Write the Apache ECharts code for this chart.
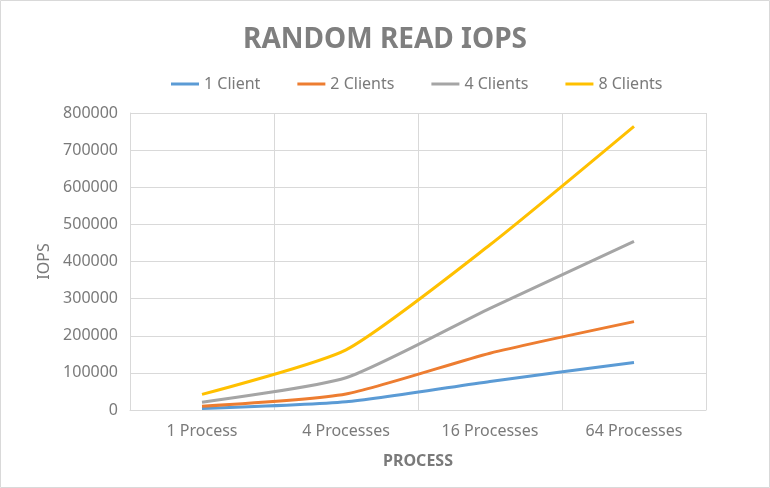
<!DOCTYPE html>
<html>
<head>
<meta charset="utf-8">
<script src="https://cdn.jsdelivr.net/npm/echarts@6/dist/echarts.min.js"></script>
<style>html,body{margin:0;padding:0;background:#fff}#c{width:770px;height:488px}</style>
</head>
<body>
<div id="c"></div>
<script>
const categories = ['1 Process', '4 Processes', '16 Processes', '64 Processes'];
const seriesNames = ['1 Client', '2 Clients', '4 Clients', '8 Clients'];
const client1 = [4000, 22000, 77000, 128000];
const client2 = [10000, 43000, 153000, 238000];
const client4 = [21000, 87000, 274000, 454000];
const client8 = [42000, 162000, 445000, 764000];
const yTicks = { min: 0, max: 800000, interval: 100000 };
const colors = ['#5B9BD5', '#ED7D31', '#A5A5A5', '#FFC000'];

const font = 'Noto Sans';
const values = [client1, client2, client4, client8];
const chart = echarts.init(document.getElementById('c'), null, { renderer: 'canvas' });
chart.setOption({
  animation: false,
  color: colors,
  textStyle: { fontFamily: font },
  graphic: [{ type: 'rect', shape: { x: 0.5, y: 0.5, width: 769, height: 487 }, style: { fill: 'none', stroke: '#d9d9d9', lineWidth: 1 } }],
  title: {
    text: 'RANDOM READ IOPS', left: 'center', top: 21,
    textStyle: { fontFamily: font, fontSize: 28, fontWeight: 'bold', color: '#7f7f7f' }
  },
  legend: {
    top: 71, left: 166, itemWidth: 28, itemHeight: 3, itemGap: 37, icon: 'rect',
    textStyle: { fontFamily: font, fontSize: 16, color: '#7a7a7a' },
    data: seriesNames
  },
  grid: { left: 130, right: 64, top: 113, bottom: 78, containLabel: false },
  xAxis: {
    type: 'category', data: categories, boundaryGap: true,
    name: 'PROCESS', nameLocation: 'middle', nameGap: 43,
    nameTextStyle: { fontFamily: font, fontSize: 16, fontWeight: 'bold', color: '#7a7a7a' },
    axisLine: { lineStyle: { color: '#d9d9d9' } },
    axisTick: { show: false },
    axisLabel: { fontFamily: font, fontSize: 16, color: '#7a7a7a', margin: 13 },
    splitLine: { show: true, lineStyle: { color: '#d9d9d9' } }
  },
  yAxis: {
    type: 'value', min: yTicks.min, max: yTicks.max, interval: yTicks.interval,
    name: 'IOPS', nameLocation: 'middle', nameGap: 77, nameRotate: 90,
    nameTextStyle: { fontFamily: font, fontSize: 16, color: '#7a7a7a' },
    axisLine: { show: true, lineStyle: { color: '#d9d9d9' } },
    axisTick: { show: false },
    axisLabel: { fontFamily: font, fontSize: 16, color: '#7a7a7a', margin: 12, formatter: v => String(v) },
    splitLine: { show: true, lineStyle: { color: '#d9d9d9' } }
  },
  series: seriesNames.map((n, i) => ({
    name: n, type: 'line', data: values[i], smooth: 0.2, showSymbol: false, symbol: 'none',
    lineStyle: { width: 3, color: colors[i] }, itemStyle: { color: colors[i] }
  }))
});
</script>
</body>
</html>
